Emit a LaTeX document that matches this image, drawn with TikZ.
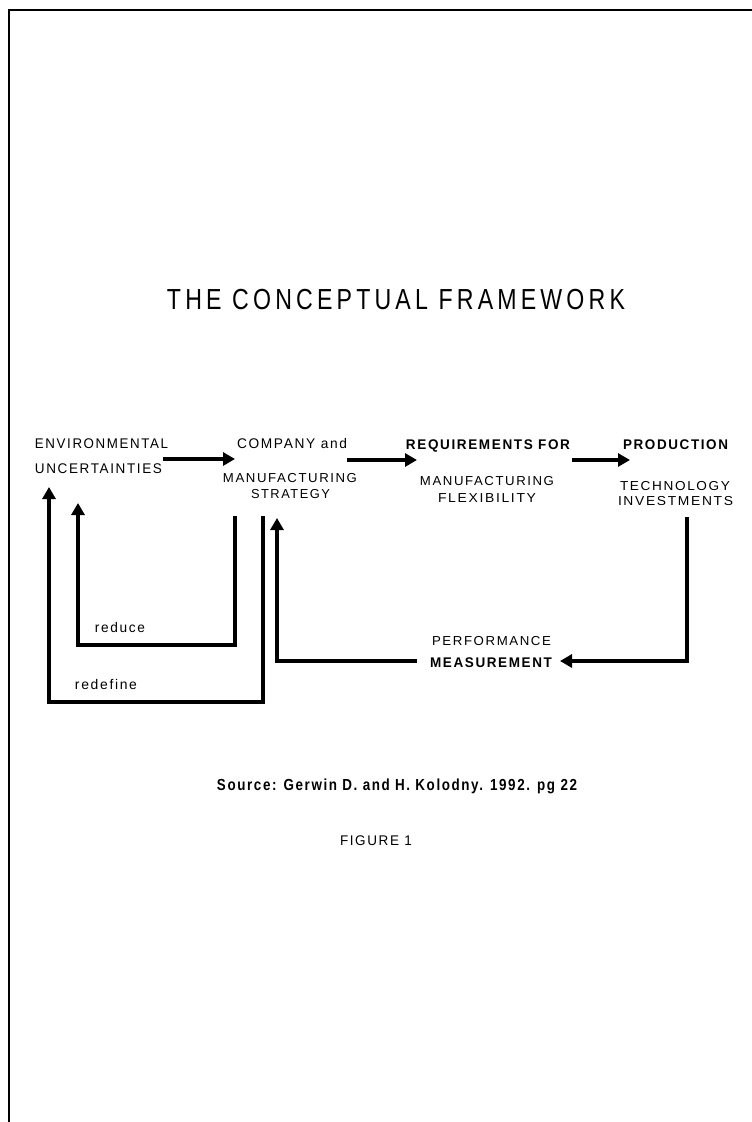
\documentclass[tikz,border=0pt]{standalone}
\usepackage{fontspec}
\setmainfont{Liberation Sans}
\usepackage{graphicx}
\usetikzlibrary{arrows.meta}
\newfontfamily\lblfont{Liberation Sans}[LetterSpace=12]
\newfontfamily\ttlfont{Liberation Sans}[LetterSpace=18]
\newcommand{\fitw}[2]{\resizebox{#1pt}{\height}{#2}}
\begin{document}
\begin{tikzpicture}[x=1pt,y=-1pt,
  lbl/.style={inner sep=0pt, anchor=base, font=\lblfont\fontsize{14}{14}\selectfont},
  slbl/.style={inner sep=0pt, anchor=base, font=\lblfont\fontsize{13}{13}\selectfont},
  blbl/.style={inner sep=0pt, anchor=base, font=\lblfont\bfseries\fontsize{14}{14}\selectfont},
  ttl/.style={inner sep=0pt, anchor=base, font=\ttlfont\fontsize{29}{29}\selectfont},
  src/.style={inner sep=0pt, anchor=base, font=\lblfont\bfseries\fontsize{16}{16}\selectfont},
  flow/.style={line width=4.5pt, line join=miter, -{Triangle[length=12pt,width=13pt]}},
  frame/.style={line width=2.5pt}]
\fill[white] (0,0) rectangle (752,1122);
\useasboundingbox (0,0) rectangle (752,1122);
% frame
\coordinate (fr1) at (752,10);
\coordinate (fr2) at (9,10);
\coordinate (fr3) at (9,1122);
\draw[frame] (fr1) -- (fr2) -- (fr3);
% title
\node[ttl] (title) at (396,309) {\fitw{458}{THE CONCEPTUAL FRAMEWORK}};
% boxes (texts)
\node[lbl] (env1) at (101.5,448) {\fitw{133}{ENVIRONMENTAL}};
\node[lbl] (env2) at (98.5,473) {\fitw{127}{UNCERTAINTIES}};
\node[lbl] (comp1) at (292,448) {\fitw{110}{COMPANY and}};
\node[slbl] (comp2) at (290,482) {\fitw{134}{MANUFACTURING}};
\node[slbl] (comp3) at (290.5,498) {\fitw{79}{STRATEGY}};
\node[blbl] (req1) at (488,449) {\fitw{164}{REQUIREMENTS FOR}};
\node[slbl] (req2) at (487,485) {\fitw{134}{MANUFACTURING}};
\node[slbl] (req3) at (487,502) {\fitw{98}{FLEXIBILITY}};
\node[blbl] (prod1) at (675.5,449) {\fitw{105}{PRODUCTION}};
\node[slbl] (prod2) at (675,490) {\fitw{110}{TECHNOLOGY}};
\node[slbl] (prod3) at (675.5,505) {\fitw{115}{INVESTMENTS}};
\node[slbl] (perf1) at (491.5,645) {\fitw{119}{PERFORMANCE}};
\node[blbl] (perf2) at (491,667) {\fitw{122}{MEASUREMENT}};
\node[lbl] (reduce) at (120,632) {\fitw{50}{reduce}};
\node[lbl] (redefine) at (106,689) {\fitw{62}{redefine}};
\node[src] (source) at (397,790) {\fitw{360}{Source: Gerwin D. and H. Kolodny. 1992. pg 22}};
\node[lbl] (fig) at (376,845) {\fitw{72}{FIGURE 1}};
% connector end points
\coordinate (a1s) at (163,459);  \coordinate (a1e) at (235,459);
\coordinate (a2s) at (347,460);  \coordinate (a2e) at (417,460);
\coordinate (a3s) at (572,460);  \coordinate (a3e) at (630,460);
\coordinate (rds) at (235,516);  \coordinate (rde) at (78,503);
\coordinate (rfs) at (263,516);  \coordinate (rfe) at (49,487);
\coordinate (pms) at (687,517);  \coordinate (pme) at (560,661);
\coordinate (pcs) at (417,661);  \coordinate (pce) at (277,518);
% forward arrows
\draw[flow] (a1s) -- (a1e);
\draw[flow] (a2s) -- (a2e);
\draw[flow] (a3s) -- (a3e);
% feedback loops
\draw[flow] (rds) -- (235,645) -- (78,645) -- (rde);
\draw[flow] (rfs) -- (263,702) -- (49,702) -- (rfe);
\draw[flow] (pms) -- (687,661) -- (pme);
\draw[flow] (pcs) -- (277,661) -- (pce);
\end{tikzpicture}
\end{document}
